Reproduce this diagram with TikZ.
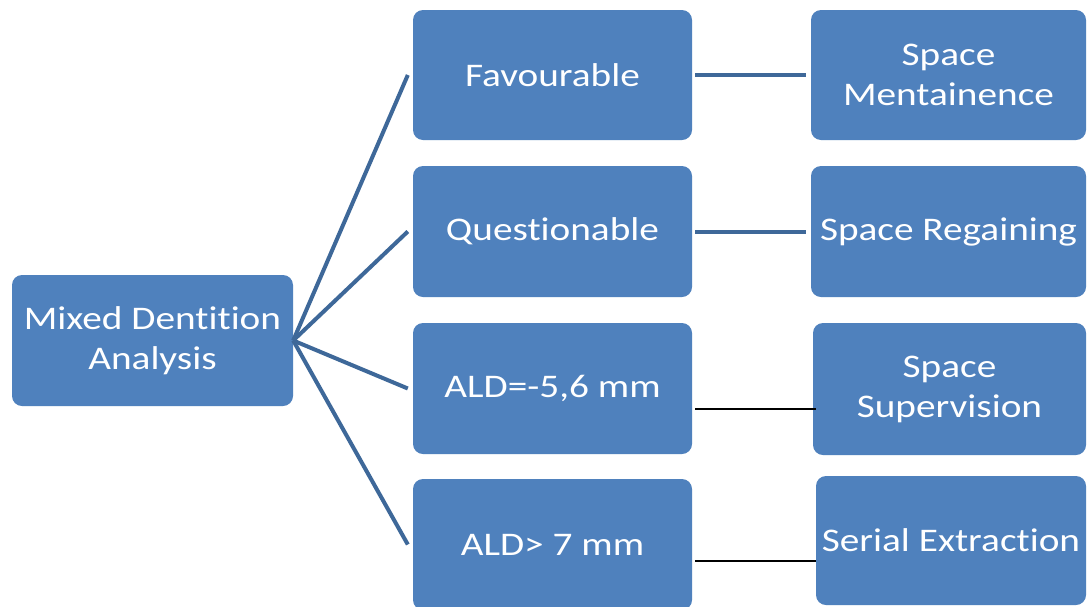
\documentclass[tikz,border=0pt]{standalone}
\usepackage{fontspec}
\setmainfont{Carlito}[FakeStretch=1.19, Ligatures={NoCommon}]
\definecolor{boxblue}{RGB}{79,129,189}
\definecolor{lineblue}{RGB}{62,104,153}
\begin{document}
\begin{tikzpicture}[x=1pt,y=-1pt,
  box/.style={rectangle, rounded corners=10pt, fill=boxblue, text=white,
    inner sep=0pt, align=center, font=\fontsize{33}{40}\selectfont},
  fan/.style={draw=lineblue, line width=4pt},
  thin/.style={draw=black, line width=1.5pt}]
\clip (0,0) rectangle (1087,606);
\fill[white] (0,0) rectangle (1087,606);
% left
\node[box, minimum width=281pt, minimum height=131pt] (A) at (152.5,340.5) {Mixed Dentition\\Analysis};
% middle
\node[box, minimum width=279pt, minimum height=130pt] (B1) at (552.5,75) {Favourable};
\node[box, minimum width=279pt, minimum height=131pt] (B2) at (552.5,231.5) {Questionable};
\node[box, minimum width=279pt, minimum height=131pt] (B3) at (552.5,388.5) {ALD=-5,6 mm};
\node[box, minimum width=279pt, minimum height=131pt] (B4) at (552.5,544.5) {ALD> 7 mm};
% right
\node[box, minimum width=275pt, minimum height=130pt] (C1) at (948.5,75) {Space\\Mentainence};
\node[box, minimum width=275pt, minimum height=131pt] (C2) at (948.5,231.5) {Space Regaining};
\node[box, minimum width=273pt, minimum height=132pt] (C3) at (949.5,389) {Space\\Supervision};
\node[box, minimum width=270pt, minimum height=129pt] (C4) at (951,540.5) {Serial Extraction};
% fan connectors
\draw[fan] (A.east) -- ([xshift=-5pt]B1.west);
\draw[fan] (A.east) -- ([xshift=-5pt]B2.west);
\draw[fan] (A.east) -- ([xshift=-5pt]B3.west);
\draw[fan] (A.east) -- ([xshift=-5pt]B4.west);
% middle to right
\draw[fan] ([xshift=3pt]B1.east) -- ([xshift=-5pt]C1.west);
\draw[fan] ([xshift=3pt]B2.east) -- ([xshift=-5pt]C2.west);
\coordinate (T3) at ([yshift=-20.5pt]B3.east);
\coordinate (T4) at ([yshift=-16.5pt]B4.east);
\draw[thin] ([xshift=3pt]T3) -- (T3 -| C4.west);
\draw[thin] ([xshift=3pt]T4) -- (T4 -| C4.west);
\end{tikzpicture}
\end{document}
